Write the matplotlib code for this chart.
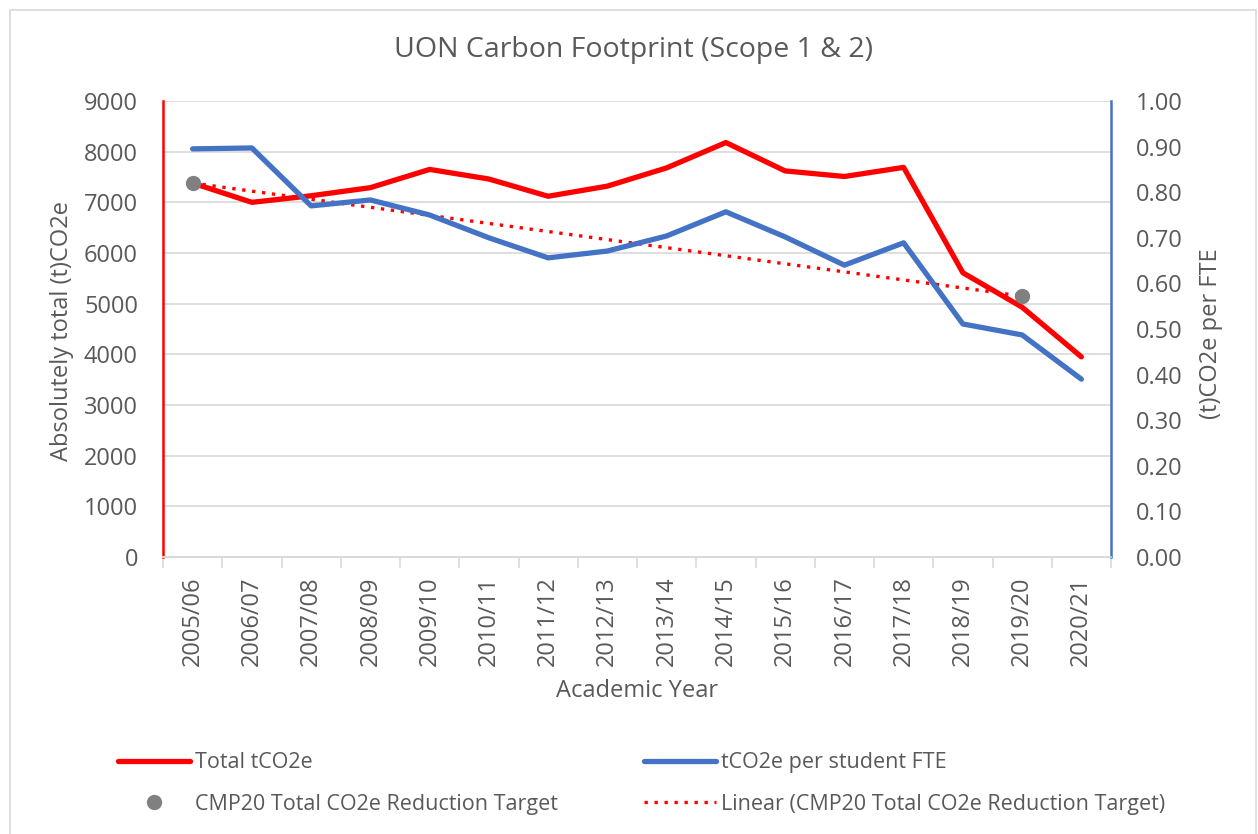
import matplotlib.pyplot as plt
import numpy as np
from matplotlib.patches import Rectangle

years = ["2005/06", "2006/07", "2007/08", "2008/09", "2009/10", "2010/11",
         "2011/12", "2012/13", "2013/14", "2014/15", "2015/16", "2016/17",
         "2017/18", "2018/19", "2019/20", "2020/21"]
total_tco2e = [7380, 7000, 7130, 7290, 7650, 7460, 7120, 7320, 7680, 8180,
               7620, 7510, 7690, 5610, 4930, 3950]
per_student = [0.895, 0.897, 0.770, 0.783, 0.750, 0.700, 0.656, 0.671, 0.704,
               0.757, 0.702, 0.640, 0.689, 0.511, 0.487, 0.390]
target_idx = [0, 14]
target_vals = [7380, 5150]

plt.rcParams['font.family'] = ['Open Sans', 'DejaVu Sans']
grey = '#595959'
W, H = 1258, 834

fig = plt.figure(figsize=(W / 100, H / 100), dpi=100)
# light outer border of the chart area
fig.patches.append(Rectangle((10 / W, -0.02), 1246 / W, 1 - 10 / H + 0.02,
                             transform=fig.transFigure, fill=False,
                             edgecolor='#d9d9d9', lw=1.2))

ax = fig.add_axes([163 / W, 1 - 557 / H, 948 / W, 456 / H])
ax2 = ax.twinx()

x = np.arange(len(years))
l1, = ax.plot(x, total_tco2e, color='#ff0000', lw=3.8, solid_capstyle='round',
              label='Total tCO2e', zorder=3)
l2, = ax2.plot(x, per_student, color='#4472c4', lw=3.8, solid_capstyle='round',
               label='tCO2e per student FTE', zorder=3)
m, b = np.polyfit(target_idx, target_vals, 1)
tx = np.linspace(target_idx[0], target_idx[-1], 50)
l4, = ax.plot(tx, m * tx + b, color='#ff0000', lw=2.4, ls=(0, (1, 2.0)),
              label='Linear (CMP20 Total CO2e Reduction Target)', zorder=4)
l3, = ax.plot(target_idx, target_vals, 'o', color='#808080', ms=10,
              label='CMP20 Total CO2e Reduction Target', zorder=5)

ax.set_xlim(-0.5, len(years) - 0.5)
ax.set_ylim(0, 9000)
ax2.set_ylim(0, 1.0)
ax.set_yticks(np.arange(0, 9001, 1000))
ax2.set_yticks(np.arange(0, 1.01, 0.1))
ax2.set_yticklabels([f"{v:.2f}" for v in np.arange(0, 1.01, 0.1)])
ax.set_xticks(x)
ax.set_xticklabels(years, rotation=90)
ax.set_xticks(np.arange(-0.5, len(years), 1), minor=True)
ax.tick_params(axis='x', which='major', length=0, pad=14)
ax.tick_params(axis='x', which='minor', length=8, width=1.2,
               color='#d9d9d9', direction='out')

ax.grid(axis='y', color='#d9d9d9', lw=1.2)
ax.set_axisbelow(True)
for a in (ax, ax2):
    for s in ('top', 'left', 'right'):
        a.spines[s].set_visible(False)
    a.spines['bottom'].set_color('#d9d9d9')
    a.spines['bottom'].set_linewidth(1.2)
ax.spines['left'].set_visible(True)
ax.spines['left'].set_color('#ff0000')
ax.spines['left'].set_linewidth(1.8)
ax2.spines['right'].set_visible(True)
ax2.spines['right'].set_color('#4472c4')
ax2.spines['right'].set_linewidth(1.8)
ax.tick_params(axis='y', length=0, labelsize=17, labelcolor=grey, pad=18)
ax2.tick_params(axis='y', length=0, labelsize=17, labelcolor=grey, pad=18)
ax.tick_params(axis='x', labelsize=17, labelcolor=grey)

ax.set_ylabel('Absolutely total (t)CO2e', fontsize=17, color=grey)
ax.yaxis.label.set_va('center')
ax.yaxis.set_label_coords(-0.1065, 0.495)
ax2.set_ylabel('(t)CO2e per FTE', fontsize=17, color=grey)
ax2.yaxis.label.set_va('center')
ax2.yaxis.set_label_coords(1.1055, 0.49)
ax.set_xlabel('Academic Year', fontsize=17, color=grey)
ax.xaxis.label.set_va('center')
ax.xaxis.set_label_coords(0.5, -0.294)
fig.text(634 / W, 1 - 50 / H, 'UON Carbon Footprint (Scope 1 & 2)',
         fontsize=20.5, color=grey, ha='center', va='center')

fig.legend(handles=[l1, l3, l2, l4], ncol=2, loc='center left',
           bbox_to_anchor=(118 / W, 1 - 783.5 / H), frameon=False,
           fontsize=15.5, labelcolor=grey, handlelength=3.35, handletextpad=0.23,
           labelspacing=0.95, columnspacing=4.0, borderpad=0, borderaxespad=0)

fig.savefig('out.png', dpi=100)
